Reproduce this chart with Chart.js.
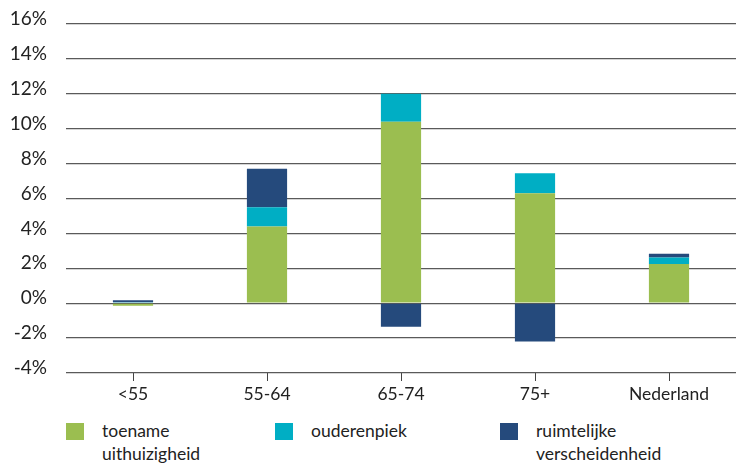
<!DOCTYPE html>
<html>
<head>
<meta charset="utf-8">
<script src="https://cdn.jsdelivr.net/npm/chart.js@4/dist/chart.umd.min.js"></script>
<style>
  body { margin: 0; background: #fff; font-family: Lato, sans-serif; }
  #wrap { position: relative; width: 736px; height: 465px; }
  #box { position: absolute; left: 0; top: 0; width: 736px; height: 408px; }
  .leg { position: absolute; top: 419px; font-size: 17.5px; line-height: 23px; color: #222; }
  .leg i { position: absolute; left: 0; top: 4px; width: 18px; height: 17px; }
  .leg span { display: block; margin-left: 36px; }
</style>
</head>
<body>
<div id="wrap">
  <div id="box"><canvas id="myChart"></canvas></div>
  <div id="legend"></div>
</div>
<script>
const categorieen = ['<55', '55-64', '65-74', '75+', 'Nederland']
const toename = [-0.15, 4.4, 10.4, 6.3, 2.25]
const ouderenpiek = [0.05, 1.1, 1.6, 1.15, 0.37]
const ruimtelijk = [0.12, 2.2, -1.35, -2.2, 0.21]
const legendaTeksten = [['toename', 'uithuizigheid'], ['ouderenpiek'], ['ruimtelijke', 'verscheidenheid']]
const kleuren = ['#9bbe50', '#00aec4', '#254a7c']
const legendaX = [66, 275, 500]

const fontX = { family: 'Lato, sans-serif', size: 17.5 }
const fontY = { family: 'Lato, sans-serif', size: 19 }

const makeDataset = (label, data, kleur) => ({
  label: label,
  data: data,
  backgroundColor: kleur,
  borderWidth: 0,
  stack: 'a',
  barPercentage: 0.3,
  categoryPercentage: 1
})

new Chart(document.getElementById('myChart'), {
  type: 'bar',
  data: {
    labels: categorieen,
    datasets: [
      makeDataset(legendaTeksten[0].join(' '), toename, kleuren[0]),
      makeDataset(legendaTeksten[1].join(' '), ouderenpiek, kleuren[1]),
      makeDataset(legendaTeksten[2].join(' '), ruimtelijk, kleuren[2])
    ]
  },
  options: {
    responsive: true,
    maintainAspectRatio: false,
    animation: false,
    layout: { padding: { left: 8, right: 0, top: 24, bottom: 0 } },
    plugins: { legend: { display: false }, tooltip: { enabled: false } },
    scales: {
      x: {
        stacked: true,
        border: { display: false },
        grid: { drawOnChartArea: false, drawTicks: true, tickLength: 8, offset: false, color: '#444', lineWidth: 1 },
        ticks: { color: '#222', font: fontX, padding: 3 }
      },
      y: {
        stacked: true,
        min: -4,
        max: 16,
        border: { display: false },
        afterFit: (scale) => { scale.width = 58; scale.paddingTop = 0 },
        grid: { drawTicks: false, color: '#5a5a5a', lineWidth: 1.3 },
        ticks: { stepSize: 2, color: '#222', font: fontY, padding: 19, labelOffset: -5, callback: (v) => v + '%' }
      }
    }
  }
})

// legenda met tekst over twee regels
const legenda = document.getElementById('legend')
legendaTeksten.forEach((regels, i) => {
  const el = document.createElement('div')
  el.className = 'leg'
  el.style.left = legendaX[i] + 'px'
  el.innerHTML = '<i style="background:' + kleuren[i] + '"></i>' + regels.map(r => '<span>' + r + '</span>').join('')
  legenda.appendChild(el)
})
</script>
</body>
</html>
